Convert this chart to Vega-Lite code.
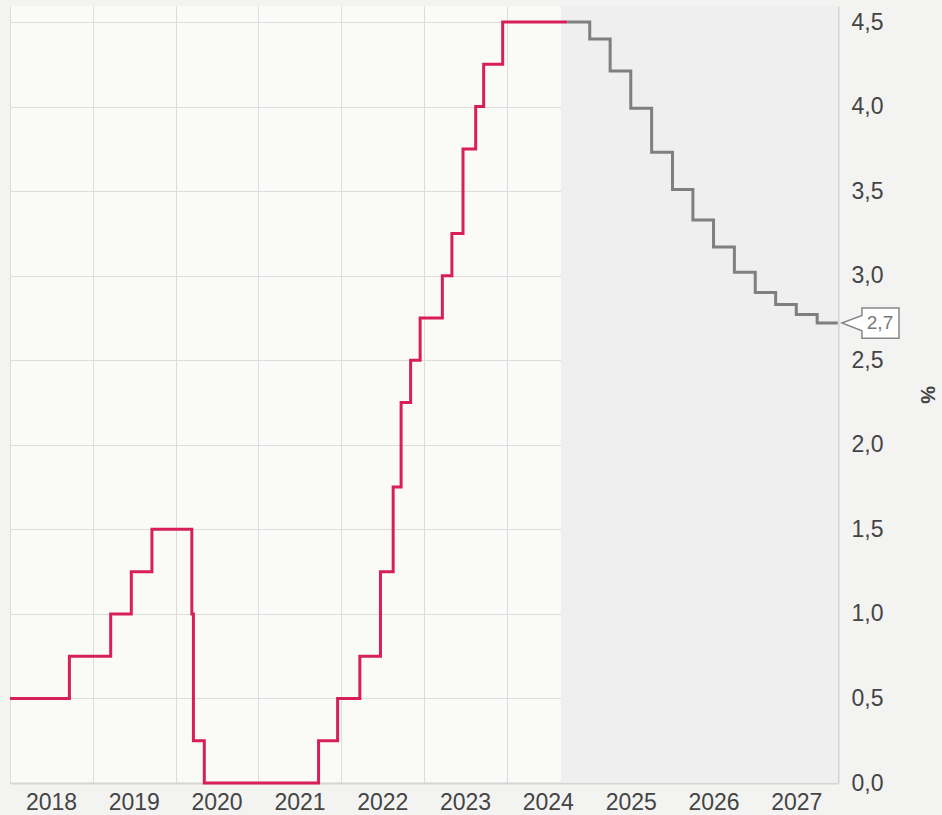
{
  "$schema": "https://vega.github.io/schema/vega-lite/v6.json",
  "width": 828,
  "height": 777,
  "autosize": {"type": "none"},
  "padding": {"left": 10, "top": 6, "right": 104, "bottom": 32},
  "background": "#f3f3f2",
  "config": {
    "view": {"fill": "#fafaf9", "stroke": null},
    "font": "Liberation Sans"
  },
  "datasets": {
    "rates": [
      {"date": "2018-01-01", "value": 0.5, "series": "actual"},
      {"date": "2018-09-20", "value": 0.75, "series": "actual"},
      {"date": "2019-03-21", "value": 1.0, "series": "actual"},
      {"date": "2019-06-20", "value": 1.25, "series": "actual"},
      {"date": "2019-09-19", "value": 1.5, "series": "actual"},
      {"date": "2020-03-13", "value": 1.0, "series": "actual"},
      {"date": "2020-03-20", "value": 0.25, "series": "actual"},
      {"date": "2020-05-07", "value": 0.0, "series": "actual"},
      {"date": "2021-09-23", "value": 0.25, "series": "actual"},
      {"date": "2021-12-16", "value": 0.5, "series": "actual"},
      {"date": "2022-03-24", "value": 0.75, "series": "actual"},
      {"date": "2022-06-23", "value": 1.25, "series": "actual"},
      {"date": "2022-08-18", "value": 1.75, "series": "actual"},
      {"date": "2022-09-22", "value": 2.25, "series": "actual"},
      {"date": "2022-11-03", "value": 2.5, "series": "actual"},
      {"date": "2022-12-15", "value": 2.75, "series": "actual"},
      {"date": "2023-03-23", "value": 3.0, "series": "actual"},
      {"date": "2023-05-04", "value": 3.25, "series": "actual"},
      {"date": "2023-06-22", "value": 3.75, "series": "actual"},
      {"date": "2023-08-17", "value": 4.0, "series": "actual"},
      {"date": "2023-09-21", "value": 4.25, "series": "actual"},
      {"date": "2023-12-14", "value": 4.5, "series": "actual"},
      {"date": "2024-09-24", "value": 4.5, "series": "actual"},
      {"date": "2024-09-24", "value": 4.5, "series": "forecast"},
      {"date": "2025-01-01", "value": 4.40, "series": "forecast"},
      {"date": "2025-04-01", "value": 4.21, "series": "forecast"},
      {"date": "2025-07-01", "value": 3.99, "series": "forecast"},
      {"date": "2025-10-01", "value": 3.73, "series": "forecast"},
      {"date": "2026-01-01", "value": 3.51, "series": "forecast"},
      {"date": "2026-04-01", "value": 3.33, "series": "forecast"},
      {"date": "2026-07-01", "value": 3.17, "series": "forecast"},
      {"date": "2026-10-01", "value": 3.02, "series": "forecast"},
      {"date": "2027-01-01", "value": 2.90, "series": "forecast"},
      {"date": "2027-04-01", "value": 2.83, "series": "forecast"},
      {"date": "2027-07-01", "value": 2.77, "series": "forecast"},
      {"date": "2027-10-01", "value": 2.72, "series": "forecast"},
      {"date": "2027-12-31", "value": 2.72, "series": "forecast"}
    ],
    "shade": [{"start": "2024-08-27", "end": "2028-01-01"}],
    "callout": [{"date": "2028-01-01", "value": 2.72, "label": "2,7"}]
  },
  "layer": [
    {
      "data": {"name": "shade"},
      "mark": {"type": "rect", "fill": "#efefef"},
      "encoding": {
        "x": {"field": "start", "type": "temporal", "scale": {"type": "utc", "domain": [{"year": 2018, "month": 1, "date": 1, "utc": true}, {"year": 2028, "month": 1, "date": 1, "utc": true}]},
          "axis": {
            "values": [
              {"year": 2018, "month": 1, "date": 1, "utc": true},
              {"year": 2019, "month": 1, "date": 1, "utc": true},
              {"year": 2020, "month": 1, "date": 1, "utc": true},
              {"year": 2021, "month": 1, "date": 1, "utc": true},
              {"year": 2022, "month": 1, "date": 1, "utc": true},
              {"year": 2023, "month": 1, "date": 1, "utc": true},
              {"year": 2024, "month": 1, "date": 1, "utc": true},
              {"year": 2025, "month": 1, "date": 1, "utc": true},
              {"year": 2026, "month": 1, "date": 1, "utc": true},
              {"year": 2027, "month": 1, "date": 1, "utc": true}
            ],
            "labelExpr": "utcFormat(datum.value, '%Y')",
            "labelOffset": 41,
            "labelAlign": "center",
            "labelFontSize": 23,
            "labelColor": "#444444",
            "labelPadding": 8,
            "ticks": false,
            "grid": true,
            "gridColor": "#dcdcdc",
            "gridWidth": 1,
            "domainColor": "#d4d4d4",
            "domainWidth": 2,
            "title": null
          }
        },
        "x2": {"field": "end"}
      }
    },
    {
      "data": {"name": "rates"},
      "mark": {"type": "line", "interpolate": "step-after", "strokeWidth": 3},
      "encoding": {
        "x": {"field": "date", "type": "temporal"},
        "y": {"field": "value", "type": "quantitative",
          "scale": {"domain": [0, 4.595], "nice": false, "zero": true},
          "axis": {
            "orient": "right",
            "values": [0, 0.5, 1, 1.5, 2, 2.5, 3, 3.5, 4, 4.5],
            "labelExpr": "replace(format(datum.value, '.1f'), '.', ',')",
            "labelFontSize": 23,
            "labelColor": "#444444",
            "labelPadding": 13,
            "ticks": false,
            "grid": true,
            "gridColor": "#dcdcdc",
            "gridWidth": 1,
            "domainColor": "#d4d4d4",
            "domainWidth": 2,
            "title": "%",
            "titleFontSize": 20,
            "titleFontWeight": "bold",
            "titleColor": "#444444",
            "titlePadding": 34
          }
        },
        "color": {"field": "series", "type": "nominal", "scale": {"domain": ["actual", "forecast"], "range": ["#d81e5b", "#7f7f7f"]}, "legend": null}
      }
    },
    {
      "data": {"name": "callout"},
      "mark": {"type": "point", "shape": "M -1 0 L -0.3 -0.27 L -0.3 -0.53 L 1 -0.53 L 1 0.53 L -0.3 0.53 L -0.3 0.27 Z", "size": 3249, "filled": false, "fill": "#ffffff", "fillOpacity": 1, "stroke": "#888888", "strokeWidth": 1.5, "opacity": 1, "xOffset": 32.5},
      "encoding": {
        "x": {"field": "date", "type": "temporal"},
        "y": {"field": "value", "type": "quantitative"}
      }
    },
    {
      "data": {"name": "callout"},
      "mark": {"type": "text", "fontSize": 19, "color": "#777777", "align": "center", "baseline": "middle", "dx": 42},
      "encoding": {
        "x": {"field": "date", "type": "temporal"},
        "y": {"field": "value", "type": "quantitative"},
        "text": {"field": "label"}
      }
    }
  ]
}
